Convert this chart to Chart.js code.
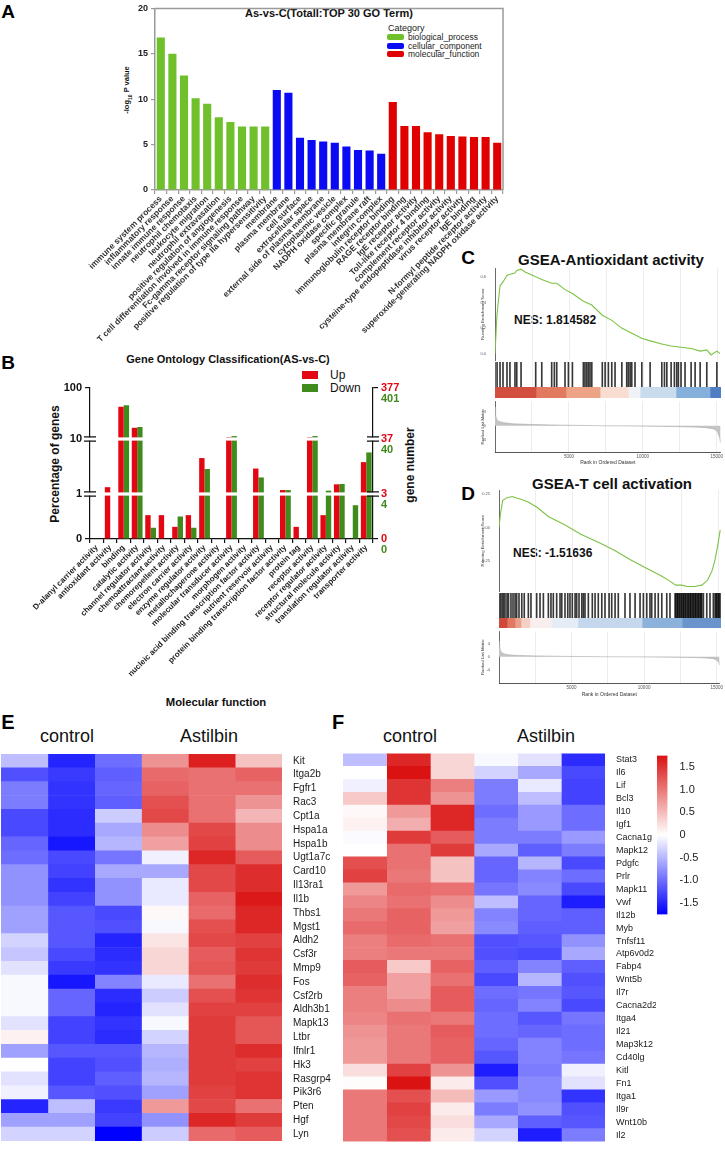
<!DOCTYPE html>
<html>
<head>
<meta charset="utf-8">
<title>GO / GSEA / heatmap figure</title>
<script src="https://cdn.jsdelivr.net/npm/chart.js@4.4.1/dist/chart.umd.min.js"></script>
<style>
  body { margin: 0; background: #fff; }
  #page { position: relative; width: 725px; height: 1150px; overflow: hidden; background: #fff;
          font-family: Arial, "Liberation Sans", Helvetica, sans-serif; color: #111; }
  #page canvas { position: absolute; }
  .t { position: absolute; transform: translate(-50%, -50%); white-space: nowrap; line-height: 1; }
  .l { position: absolute; transform: translate(0, -50%); white-space: nowrap; line-height: 1; }
  .rot { transform: translate(-50%, -50%) rotate(-90deg); }
  .panel { font-weight: bold; font-size: 19px; color: #000; }
  .sw { position: absolute; }
</style>
</head>
<body>
<div id="page">
  <!-- panel A -->
  <div class="t panel" style="left:8px;top:11px">A</div>
  <div class="t" style="left:329px;top:13px;font-weight:bold;font-size:11px">As-vs-C(Totall:TOP 30 GO Term)</div>
  <div class="l" style="left:388px;top:28px;font-size:9px;color:#222">Category</div>
  <div class="sw" style="left:387px;top:34px;width:17px;height:6px;border-radius:2px;background:#70c02c"></div>
  <div class="l" style="left:408px;top:37px;font-size:8.5px;color:#222">biological_process</div>
  <div class="sw" style="left:387px;top:43px;width:17px;height:6px;border-radius:2px;background:#0a0af5"></div>
  <div class="l" style="left:408px;top:46px;font-size:8.5px;color:#222">cellular_component</div>
  <div class="sw" style="left:387px;top:51px;width:17px;height:6px;border-radius:2px;background:#e10000"></div>
  <div class="l" style="left:408px;top:54px;font-size:8.5px;color:#222">molecular_function</div>
  <div class="t rot" style="left:128px;top:90px;font-weight:bold;font-size:7.5px">-log<sub style="font-size:5px">10</sub> P value</div>

  <!-- panel B -->
  <div class="t panel" style="left:8px;top:362px">B</div>
  <div class="t" style="left:228px;top:359px;font-weight:bold;font-size:11px">Gene Ontology Classification(AS-vs-C)</div>
  <div class="sw" style="left:302px;top:371px;width:16px;height:8px;background:#e30613"></div>
  <div class="l" style="left:330px;top:375px;font-size:12px">Up</div>
  <div class="sw" style="left:302px;top:384px;width:16px;height:8px;background:#3f8b1b"></div>
  <div class="l" style="left:330px;top:388px;font-size:12px">Down</div>
  <div class="t rot" style="left:55px;top:464px;font-weight:bold;font-size:12px">Percentage of genes</div>
  <div class="t rot" style="left:410px;top:465px;font-weight:bold;font-size:12px">gene number</div>
  <div class="t" style="left:216px;top:703px;font-weight:bold;font-size:11.3px">Molecular function</div>

  <!-- panels C and D -->
  <div class="t panel" style="left:468px;top:257px">C</div>
  <div class="t" style="left:611px;top:259px;font-weight:bold;font-size:15px">GSEA-Antioxidant activity</div>
  <div class="l" style="left:514px;top:320px;font-weight:bold;font-size:12px">NES: 1.814582</div>
  <div class="t panel" style="left:468px;top:493px">D</div>
  <div class="t" style="left:612px;top:483px;font-weight:bold;font-size:15px">GSEA-T cell activation</div>
  <div class="l" style="left:513px;top:553px;font-weight:bold;font-size:12px">NES: -1.51636</div>

  <!-- panels E and F -->
  <div class="t panel" style="left:8px;top:722px;font-size:20px">E</div>
  <div class="t" style="left:67px;top:736px;font-size:18px">control</div>
  <div class="t" style="left:209px;top:736px;font-size:18px">Astilbin</div>
  <div class="t panel" style="left:338px;top:722px;font-size:20px">F</div>
  <div class="t" style="left:410px;top:736px;font-size:18px">control</div>
  <div class="t" style="left:546px;top:736px;font-size:18px">Astilbin</div>
</div>

<script>
// ---------- panel A: top 30 GO terms ----------
const goTerms = [
  'immune system process', 'inflammatory response', 'innate immune response', 'neutrophil chemotaxis',
  'leukocyte migration', 'neutrophil extravasation', 'positive regulation of angiogenesis',
  'T cell differentiation involved in immune response', 'Fc-gamma receptor signaling pathway',
  'positive regulation of type IIa hypersensitivity',
  'membrane', 'plasma membrane', 'cell surface', 'extracellular space', 'external side of plasma membrane',
  'cytoplasmic vesicle', 'NADPH oxidase complex', 'specific granule', 'plasma membrane raft', 'integrin complex',
  'immunoglobulin receptor binding', 'RAGE receptor binding', 'IgE receptor activity', 'Toll-like receptor 4 binding',
  'complement receptor activity', 'cysteine-type endopeptidase inhibitor activity', 'virus receptor activity',
  'IgE binding', 'N-formyl peptide receptor activity', 'superoxide-generating NADPH oxidase activity'
];
const goPvalues = [16.8, 15.0, 12.6, 10.1, 9.5, 8.0, 7.5, 7.0, 7.0, 7.0,
                   11.0, 10.7, 5.75, 5.5, 5.35, 5.2, 4.8, 4.4, 4.35, 4.0,
                   9.7, 7.05, 7.05, 6.35, 6.15, 5.95, 5.9, 5.85, 5.85, 5.2];
const goCategory = ['BP', 'BP', 'BP', 'BP', 'BP', 'BP', 'BP', 'BP', 'BP', 'BP',
                    'CC', 'CC', 'CC', 'CC', 'CC', 'CC', 'CC', 'CC', 'CC', 'CC',
                    'MF', 'MF', 'MF', 'MF', 'MF', 'MF', 'MF', 'MF', 'MF', 'MF'];
const categoryColors = { BP: '#70c02c', CC: '#0a0af5', MF: '#e10000' };

// ---------- panel B: GO classification (molecular function) ----------
const mfTerms = [
  'D-alanyl carrier activity', 'antioxidant activity', 'binding', 'catalytic activity',
  'channel regulator activity', 'chemoattractant activity', 'chemorepellent activity',
  'electron carrier activity', 'enzyme regulator activity', 'metallochaperone activity',
  'molecular transducer activity', 'morphogen activity', 'nucleic acid binding transcription factor activity',
  'nutrient reservoir activity', 'protein binding transcription factor activity', 'protein tag',
  'receptor activity', 'receptor regulator activity', 'structural molecule activity',
  'translation regulator activity', 'transporter activity'
];
const upPercent   = [0, 1.33, 43, 16.6, 0.53, 0.53, 0.27, 0.53, 4.5, 0, 10.9, 0, 2.9, 0, 1.18, 0.27, 10.9, 0.53, 1.5, 0, 3.8];
const downPercent = [0, 0, 46, 17.2, 0.25, 0, 0.5, 0.25, 2.85, 0, 11.4, 0, 2.0, 0, 1.18, 0, 11.4, 1.15, 1.52, 0.75, 5.7];
const pctTicks = [0, 1, 10, 100];
const upTickCounts = [0, 3, 37, 377];
const downTickCounts = [0, 4, 40, 401];

// ---------- panels C and D: GSEA ----------
const rankGrid = [2500, 5000, 7500, 10000, 12500, 15000];
const cEsRanks  = [0, 130, 340, 540, 810, 1010, 1350, 1470, 1760, 2000, 2750, 3160, 3830, 4170, 4730, 5230, 5970, 6540, 7250, 7890, 8560, 9240, 9920, 10480, 11270, 11900, 12570, 13250, 13860, 14310, 14600, 14990, 15200];
const cEsScores = [0, 0.30, 0.53, 0.56, 0.61, 0.62, 0.63, 0.65, 0.66, 0.64, 0.60, 0.58, 0.55, 0.55, 0.50, 0.47, 0.41, 0.38, 0.30, 0.26, 0.20, 0.16, 0.12, 0.10, 0.075, 0.06, 0.05, 0.04, 0.02, 0.03, -0.01, 0.02, 0.0];
const cHits = [140, 340, 540, 810, 1010, 1350, 1470, 1760, 2750, 3160, 3830, 4010, 4170, 4730, 4960, 5230, 5970, 6080, 6200, 6310, 6420, 6540, 7250, 7440, 7660, 7890, 8110, 8570, 8900, 9010, 9130, 9240, 9460, 9920, 10480, 11270, 11450, 11610, 11900, 12120, 12280, 12390, 12570, 12840, 13250, 13520, 13860, 14310, 14990];
const cBandEdges  = [0, 2770, 4800, 7100, 9000, 9800, 12230, 14530, 15270];
const cBandColors = ['#d24f3f', '#e27a60', '#eca386', '#f8ddd0', '#f1f2f7', '#c8dcee', '#86b0dc', '#4f7fc2'];
const cMetricRanks  = [0, 40, 100, 250, 600, 1200, 2500, 4500, 7000, 9500, 12000, 13500, 14300, 14800, 15050, 15200, 15270];
const cMetricValues = [5.5, 3.2, 2.0, 1.3, 0.9, 0.6, 0.4, 0.2, 0.05, -0.05, -0.2, -0.35, -0.55, -0.9, -1.6, -3.5, -5.0];

const dEsRanks  = [0, 100, 250, 500, 900, 1200, 1500, 2000, 2600, 3400, 4500, 5600, 6800, 7900, 9000, 10200, 11100, 11700, 12100, 12500, 12900, 13400, 13900, 14300, 14600, 14800, 15000, 15150];
const dEsScores = [0, 0.10, 0.20, 0.22, 0.23, 0.22, 0.21, 0.19, 0.15, 0.08, 0.02, -0.05, -0.11, -0.17, -0.24, -0.31, -0.36, -0.40, -0.43, -0.43, -0.44, -0.44, -0.43, -0.39, -0.32, -0.24, -0.12, -0.02];
const dHits = [100, 210, 310, 410, 550, 650, 820, 960, 1100, 1210, 1370, 1560, 1730, 2010, 2190, 2580, 2810, 3040, 3380, 3560, 3720, 3950, 4180, 4300, 4520, 4710, 4860, 5020, 5210, 5320, 5480, 5670, 5780, 5890, 6120, 6390, 6580, 6800, 7040, 7260, 7540, 7720, 7950, 8170, 8630, 8970, 9320, 9660, 9890, 10120, 10340, 10460, 10690, 10910, 11150, 11490, 11710,
               12060, 12120, 12200, 12250, 12330, 12390, 12470, 12530, 12610, 12660, 12740, 12800, 12880, 12950, 13010, 13090, 13140, 13220, 13290, 13350, 13430, 13480, 13560, 13630, 13690, 13770, 13830, 13890,
               14000, 14230, 14450, 14680, 14800, 14870, 14930, 15010, 15070, 15140];
const dBandEdges  = [0, 550, 1100, 1500, 2120, 3630, 5410, 9800, 12540, 15205];
const dBandColors = ['#d04838', '#e07a62', '#eaa08c', '#f5d0c4', '#f8eeee', '#e4ecf6', '#c4d7ec', '#8cb2dc', '#6a94cc'];
const dMetricRanks  = [0, 40, 100, 250, 600, 1200, 2500, 4500, 7000, 9500, 12000, 13500, 14300, 14800, 15000, 15150, 15205];
const dMetricValues = [4.8, 3.0, 1.8, 1.0, 0.6, 0.4, 0.25, 0.1, 0.0, -0.05, -0.15, -0.25, -0.4, -0.6, -1.0, -1.8, -2.6];

// ---------- panels E and F: heatmaps (z-scores) ----------
const eGenes = ['Kit', 'Itga2b', 'Fgfr1', 'Rac3', 'Cpt1a', 'Hspa1a', 'Hspa1b', 'Ugt1a7c', 'Card10', 'Il13ra1',
                'Il1b', 'Thbs1', 'Mgst1', 'Aldh2', 'Csf3r', 'Mmp9', 'Fos', 'Csf2rb', 'Aldh3b1', 'Mapk13',
                'Ltbr', 'Ifnlr1', 'Hk3', 'Rasgrp4', 'Pik3r6', 'Pten', 'Hgf', 'Lyn'];
const eValues = [
  [-0.45, -1.5, -1.0, 0.8, 1.65, 0.45],
  [-1.2, -1.35, -1.1, 1.1, 1.05, 1.15],
  [-0.9, -1.4, -1.05, 1.15, 1.05, 1.05],
  [-0.9, -1.4, -1.1, 1.3, 1.05, 0.8],
  [-1.25, -1.45, -0.35, 1.35, 1.05, 0.55],
  [-1.25, -1.45, -0.6, 0.85, 1.35, 0.85],
  [-1.05, -1.6, -0.5, 0.7, 1.4, 0.85],
  [-1.0, -1.25, -0.95, -0.1, 1.6, 1.2],
  [-0.75, -1.3, -0.6, -0.6, 1.35, 1.55],
  [-0.75, -1.4, -0.75, -0.15, 1.35, 1.55],
  [-0.75, -1.3, -0.75, -0.15, 1.15, 1.7],
  [-0.65, -1.15, -1.25, 0.05, 1.1, 1.6],
  [-0.65, -1.15, -1.2, -0.05, 1.3, 1.6],
  [-0.3, -1.15, -1.5, 0.2, 1.35, 1.4],
  [-0.4, -1.25, -1.45, 0.3, 1.2, 1.5],
  [-0.2, -1.35, -1.4, 0.3, 1.25, 1.45],
  [-0.05, -1.6, -0.85, -0.15, 1.05, 1.55],
  [-0.05, -1.05, -1.45, -0.35, 1.3, 1.5],
  [-0.05, -1.05, -1.5, -0.2, 1.4, 1.4],
  [-0.2, -1.3, -1.4, -0.05, 1.45, 1.25],
  [0.1, -1.3, -1.45, -0.3, 1.45, 1.25],
  [-0.65, -1.15, -1.15, -0.5, 1.45, 1.55],
  [0.0, -1.3, -1.2, -0.55, 1.45, 1.4],
  [-0.2, -1.3, -1.1, -0.5, 1.45, 1.5],
  [-0.1, -1.15, -1.2, -0.65, 1.4, 1.5],
  [-1.5, -0.45, -1.35, 0.75, 1.35, 1.05],
  [-0.65, -0.65, -1.3, -0.75, 1.6, 1.45],
  [-0.3, -0.3, -1.75, -0.35, 1.1, 1.2]
];
const fGenes = ['Stat3', 'Il6', 'Lif', 'Bcl3', 'Il10', 'Igf1', 'Cacna1g', 'Mapk12', 'Pdgfc', 'Prlr',
                'Mapk11', 'Vwf', 'Il12b', 'Myb', 'Tnfsf11', 'Atp6v0d2', 'Fabp4', 'Wnt5b', 'Il7r', 'Cacna2d2',
                'Itga4', 'Il21', 'Map3k12', 'Cd40lg', 'Kitl', 'Fn1', 'Itga1', 'Il9r', 'Wnt10b', 'Il2'];
const fValues = [
  [-0.45, 1.6, 0.3, -0.05, -0.2, -1.45],
  [0.0, 1.75, 0.3, -0.3, -0.6, -1.25],
  [-0.1, 1.5, 0.95, -0.9, -0.15, -1.3],
  [0.4, 1.5, 0.8, -0.9, -0.45, -1.3],
  [0.05, 0.75, 1.6, -1.0, -0.7, -1.0],
  [0.1, 0.6, 1.6, -0.9, -0.7, -1.0],
  [-0.03, 1.45, 1.2, -0.9, -0.9, -0.7],
  [0.0, 1.05, 1.45, -0.6, -1.1, -0.9],
  [1.3, 1.05, 0.45, -1.05, -0.5, -1.25],
  [1.4, 1.0, 0.45, -1.05, -0.85, -1.0],
  [0.75, 1.1, 1.05, -0.95, -0.8, -1.25],
  [0.9, 1.05, 0.85, -0.45, -1.05, -1.55],
  [1.0, 1.15, 0.75, -0.85, -1.05, -1.1],
  [1.1, 1.15, 0.7, -0.8, -1.1, -1.1],
  [0.95, 1.1, 1.05, -1.2, -1.15, -0.75],
  [0.95, 1.0, 1.0, -1.2, -1.25, -0.6],
  [1.2, 0.4, 1.15, -1.1, -0.85, -1.1],
  [1.15, 0.7, 1.05, -1.25, -0.5, -1.2],
  [0.95, 0.7, 1.2, -1.0, -0.95, -1.15],
  [0.95, 0.85, 1.2, -1.05, -0.85, -1.25],
  [0.9, 1.05, 1.0, -1.0, -1.15, -0.95],
  [0.8, 1.0, 1.2, -1.0, -1.05, -1.0],
  [0.75, 1.0, 1.15, -1.05, -0.85, -1.0],
  [0.75, 1.0, 1.15, -1.15, -0.85, -0.95],
  [0.25, 1.4, 0.8, -1.55, -0.9, -0.1],
  [0.02, 1.75, 0.15, -1.2, -0.8, -0.2],
  [1.0, 1.3, 0.5, -0.7, -0.8, -1.4],
  [1.0, 1.4, 0.15, -0.9, -0.75, -1.2],
  [1.0, 1.35, 0.25, -0.6, -1.1, -1.15],
  [1.0, 1.3, 0.15, -0.3, -1.55, -0.9]
];
const legendTicks = [1.5, 1, 0.5, 0, -0.5, -1, -1.5];
const heatLimit = 1.75;

// ---------- shared settings ----------
Chart.defaults.font.family = 'Arial, "Liberation Sans", Helvetica, sans-serif';
Chart.defaults.color = '#222';
Chart.defaults.animation = false;
Chart.defaults.responsive = false;
Chart.defaults.events = [];
Chart.defaults.plugins.legend.display = false;
Chart.defaults.plugins.tooltip.enabled = false;

const axisGray = '#9a9a9a';
const upRed = '#e30613';
const downGreen = '#3f8b1b';

function addCanvas(left, top, w, h) {
  const c = document.createElement('canvas');
  c.width = w;
  c.height = h;
  c.style.left = left + 'px';
  c.style.top = top + 'px';
  document.getElementById('page').appendChild(c);
  return c;
}

// top and right edge of the plot frame (panel A)
const frameEdges = {
  id: 'frameEdges',
  afterDraw(chart) {
    const { ctx, chartArea: a } = chart;
    ctx.save();
    ctx.strokeStyle = axisGray;
    ctx.lineWidth = 1.5;
    ctx.beginPath();
    ctx.moveTo(a.left, a.top);
    ctx.lineTo(a.right, a.top);
    ctx.lineTo(a.right, a.bottom);
    ctx.stroke();
    ctx.restore();
  }
};

// ---------- chart A ----------
new Chart(addCanvas(0, 0, 520, 350), {
  type: 'bar',
  data: {
    labels: goTerms,
    datasets: [{
      data: goPvalues,
      backgroundColor: goCategory.map(c => categoryColors[c]),
      barPercentage: 0.7,
      categoryPercentage: 1
    }]
  },
  options: {
    layout: { padding: { top: 5, right: 17 } },
    scales: {
      x: {
        grid: { drawOnChartArea: false, tickLength: 4, color: axisGray, lineWidth: 1.2 },
        border: { color: axisGray, width: 1.5 },
        ticks: { autoSkip: false, minRotation: 45, maxRotation: 45, padding: 0,
                 font: { size: 8.5, weight: 'bold' }, color: '#333' },
        afterFit: s => { s.height = 160; }
      },
      y: {
        min: 0, max: 20,
        grid: { drawOnChartArea: false, tickLength: 4, color: axisGray, lineWidth: 1.2 },
        border: { color: axisGray, width: 1.5 },
        ticks: { stepSize: 5, padding: 3, font: { size: 9, weight: 'bold' }, color: '#222' },
        afterFit: s => { s.width = 155; }
      }
    }
  },
  plugins: [frameEdges]
});

// ---------- chart B ----------
// broken axis: 0-1 linear, 1-10 log, 10-100 log, each segment with its own height
function toBrokenAxis(p) {
  if (p <= 1) return p * 45;
  if (p <= 10) return 45 + 55 * Math.log10(p);
  return 100 + 51 * Math.log10(p / 10);
}
const brokenMax = toBrokenAxis(100);
const brokenTicks = s => { s.ticks = pctTicks.map(p => ({ value: toBrokenAxis(p) })); };

const axisBreaks = {
  id: 'axisBreaks',
  afterDraw(chart) {
    const { ctx, chartArea: a } = chart;
    const y = chart.scales.y;
    ctx.save();
    [1, 10].forEach(p => {
      const py = y.getPixelForValue(toBrokenAxis(p));
      ctx.fillStyle = '#fff';
      ctx.fillRect(a.left - 6, py - 1.6, a.right - a.left + 12, 3.2);
      ctx.strokeStyle = '#111';
      ctx.lineWidth = 1.2;
      [a.left, a.right].forEach(x => {
        ctx.beginPath();
        ctx.moveTo(x - 6, py - 2.2); ctx.lineTo(x + 6, py - 2.2);
        ctx.moveTo(x - 6, py + 2.2); ctx.lineTo(x + 6, py + 2.2);
        ctx.stroke();
      });
    });
    // gene counts of the "Down" set, just under the "Up" counts of the right axis
    const r = chart.scales.yUp;
    ctx.font = 'bold 11px Arial, "Liberation Sans", sans-serif';
    ctx.fillStyle = downGreen;
    ctx.textAlign = 'left';
    ctx.textBaseline = 'middle';
    pctTicks.forEach((p, i) => {
      ctx.fillText(String(downTickCounts[i]), r.left + 8, r.getPixelForValue(toBrokenAxis(p)) + 11);
    });
    ctx.restore();
  }
};

new Chart(addCanvas(0, 340, 440, 380), {
  type: 'bar',
  data: {
    labels: mfTerms,
    datasets: [
      { label: 'Up', data: upPercent.map(toBrokenAxis), backgroundColor: upRed,
        barPercentage: 1, categoryPercentage: 0.8 },
      { label: 'Down', data: downPercent.map(toBrokenAxis), backgroundColor: downGreen,
        barPercentage: 1, categoryPercentage: 0.8 }
    ]
  },
  options: {
    layout: { padding: { top: 48 } },
    scales: {
      x: {
        grid: { drawOnChartArea: false, tickLength: 4, color: '#111', lineWidth: 1.2 },
        border: { color: '#111', width: 1.2 },
        ticks: { autoSkip: false, minRotation: 45, maxRotation: 45, padding: 0,
                 font: { size: 8, weight: 'bold' }, color: '#222' },
        afterFit: s => { s.height = 181; }
      },
      y: {
        min: 0, max: brokenMax,
        afterBuildTicks: brokenTicks,
        grid: { drawOnChartArea: false, tickLength: 5, color: '#111', lineWidth: 1.2 },
        border: { color: '#111', width: 1.2 },
        ticks: { padding: 3, font: { size: 11, weight: 'bold' }, color: '#111',
                 callback: (v, i) => pctTicks[i] },
        afterFit: s => { s.width = 90; }
      },
      yUp: {
        position: 'right', min: 0, max: brokenMax,
        afterBuildTicks: brokenTicks,
        grid: { drawOnChartArea: false, tickLength: 5, color: '#111', lineWidth: 1.2 },
        border: { color: '#111', width: 1.2 },
        ticks: { padding: 3, font: { size: 11, weight: 'bold' }, color: upRed,
                 callback: (v, i) => upTickCounts[i] },
        afterFit: s => { s.width = 67; }
      }
    }
  },
  plugins: [axisBreaks]
});

// ---------- charts C and D ----------
function rankAxis(max, extra) {
  return Object.assign({
    type: 'linear', min: 0, max: max, offset: false,
    afterBuildTicks: s => { s.ticks = rankGrid.map(v => ({ value: v })); },
    grid: { color: '#e8e8e8', lineWidth: 0.8, drawTicks: false, offset: false },
    border: { display: false },
    ticks: { display: false },
    afterFit: s => { s.height = 0; }
  }, extra || {});
}

function plainLeftAxis(width, extra) {
  return Object.assign({
    grid: { display: false },
    border: { display: true, color: '#444', width: 0.8 },
    ticks: { display: false },
    afterFit: s => { s.width = width; }
  }, extra || {});
}

function drawGsea(g) {
  const pad = { left: 10, right: 4 };

  // running enrichment score
  new Chart(addCanvas(470, g.esTop, 255, g.esHeight), {
    type: 'line',
    data: { datasets: [{
      data: g.esRanks.map((r, i) => ({ x: r, y: g.esScores[i] })),
      borderColor: '#7cc243', borderWidth: 1.1, pointRadius: 0, tension: 0
    }] },
    options: {
      layout: { padding: Object.assign({ top: 4, bottom: 2 }, pad) },
      scales: {
        x: rankAxis(g.rankMax),
        y: plainLeftAxis(g.axisWidth, {
          min: g.esMin, max: g.esMax,
          afterBuildTicks: s => { s.ticks = g.esTicks.map(v => ({ value: v })); },
          ticks: { display: true, padding: 1, font: { size: 4 }, color: '#555',
                   callback: v => v.toFixed(g.esDigits) },
          title: { display: true, text: 'Running Enrichment Score', font: { size: 4.3 }, color: '#333', padding: 0 }
        })
      }
    }
  });

  // hit positions: one thin bar per gene of the set, placed on the rank axis
  new Chart(addCanvas(470, g.hitsTop, 255, g.hitsHeight), {
    type: 'bar',
    data: { datasets: [{
      data: g.hits.map(h => ({ x: h, y: 1 })),
      backgroundColor: 'rgba(0,0,0,0.78)',
      barThickness: 1
    }] },
    options: {
      layout: { padding: pad },
      scales: { x: rankAxis(g.rankMax), y: plainLeftAxis(g.axisWidth, { min: 0, max: 1 }) }
    }
  });

  // ranked list colour band
  new Chart(addCanvas(470, g.bandTop, 255, g.bandHeight), {
    type: 'bar',
    data: {
      labels: [''],
      datasets: g.bandColors.map((col, i) => ({
        data: [g.bandEdges[i + 1] - g.bandEdges[i]],
        backgroundColor: col, barPercentage: 1, categoryPercentage: 1
      }))
    },
    options: {
      indexAxis: 'y',
      layout: { padding: pad },
      scales: {
        x: rankAxis(g.rankMax, { stacked: true }),
        y: plainLeftAxis(g.axisWidth, { stacked: true })
      }
    }
  });

  // ranked list metric
  new Chart(addCanvas(470, g.metricTop, 255, g.metricHeight), {
    type: 'line',
    data: { datasets: [{
      data: g.metricRanks.map((r, i) => ({ x: r, y: g.metricValues[i] })),
      borderColor: '#a9a9a9', borderWidth: 0.6, backgroundColor: '#c4c4c4',
      fill: 'origin', pointRadius: 0, tension: 0
    }] },
    options: {
      layout: { padding: pad },
      scales: {
        x: rankAxis(g.rankMax, {
          border: { display: true, color: '#444', width: 0.9 },
          ticks: { display: true, padding: 2, font: { size: 4.5 }, color: '#555',
                   callback: v => (v % 5000 === 0 ? v : '') },
          title: { display: true, text: 'Rank in Ordered Dataset', font: { size: 5 }, color: '#333', padding: 0 },
          afterFit: s => { s.height = g.metricAxisHeight; }
        }),
        y: plainLeftAxis(g.axisWidth, {
          min: g.metricMin, max: g.metricMax,
          afterBuildTicks: s => { s.ticks = [-4, 0, 4].map(v => ({ value: v })); },
          ticks: { display: true, padding: 1, font: { size: 4 }, color: '#555' },
          title: { display: true, text: 'Ranked List Metric', font: { size: 4.3 }, color: '#333', padding: 0 }
        })
      }
    }
  });
}

drawGsea({
  rankMax: 15270, axisWidth: 15,
  esTop: 264, esHeight: 100, esMin: -0.054, esMax: 0.669, esTicks: [0, 0.2, 0.4, 0.6], esDigits: 1,
  esRanks: cEsRanks, esScores: cEsScores,
  hitsTop: 362, hitsHeight: 25, hits: cHits,
  bandTop: 387, bandHeight: 11, bandEdges: cBandEdges, bandColors: cBandColors,
  metricTop: 398, metricHeight: 68, metricAxisHeight: 14, metricMin: -7.7, metricMax: 7.2,
  metricRanks: cMetricRanks, metricValues: cMetricValues
});

drawGsea({
  rankMax: 15205, axisWidth: 19,
  esTop: 486, esHeight: 109, esMin: -0.478, esMax: 0.279, esTicks: [-0.25, 0, 0.25], esDigits: 2,
  esRanks: dEsRanks, esScores: dEsScores,
  hitsTop: 593, hitsHeight: 25, hits: dHits,
  bandTop: 618, bandHeight: 10, bandEdges: dBandEdges, bandColors: dBandColors,
  metricTop: 628, metricHeight: 70, metricAxisHeight: 15, metricMin: -8.0, metricMax: 7.7,
  metricRanks: dMetricRanks, metricValues: dMetricValues
});

// ---------- charts E and F ----------
function heatColor(v) {
  const t = Math.max(-1, Math.min(1, v / heatLimit));
  const end = t >= 0 ? [218, 18, 18] : [0, 0, 255];
  const a = Math.abs(t);
  const c = end.map(e => Math.round(255 + (e - 255) * a));
  return 'rgb(' + c.join(',') + ')';
}

function drawHeatmap(canvas, genes, values, fontSize, padding, labelWidth) {
  const cols = values[0].length;
  const datasets = [];
  for (let c = 0; c < cols; c++) {
    datasets.push({
      data: values.map(() => 1),
      backgroundColor: values.map(row => heatColor(row[c])),
      barPercentage: 1, categoryPercentage: 1, borderWidth: 0
    });
  }
  new Chart(canvas, {
    type: 'bar',
    data: { labels: genes, datasets: datasets },
    options: {
      indexAxis: 'y',
      layout: { padding: padding },
      scales: {
        x: { stacked: true, min: 0, max: cols, display: false },
        y: {
          stacked: true, position: 'right',
          grid: { display: false }, border: { display: false },
          ticks: { autoSkip: false, padding: 3, font: { size: fontSize }, color: '#1a1a1a' },
          afterFit: s => { s.width = labelWidth; }
        }
      }
    }
  });
}

drawHeatmap(addCanvas(0, 745, 345, 405), eGenes, eValues, 10, { left: 1, top: 7, bottom: 6 }, 63);
drawHeatmap(addCanvas(338, 745, 318, 405), fGenes, fValues, 9, { left: 5, top: 8, bottom: 5 }, 51);

// colour key for F
new Chart(addCanvas(656, 745, 69, 180), {
  type: 'bar',
  data: {
    labels: [''],
    datasets: [{
      data: [[-heatLimit, heatLimit]],
      barPercentage: 1, categoryPercentage: 1,
      backgroundColor: ctx => {
        const a = ctx.chart.chartArea;
        if (!a) return '#fff';
        const g = ctx.chart.ctx.createLinearGradient(0, a.bottom, 0, a.top);
        g.addColorStop(0, heatColor(-heatLimit));
        g.addColorStop(0.5, heatColor(0));
        g.addColorStop(1, heatColor(heatLimit));
        return g;
      }
    }]
  },
  options: {
    layout: { padding: { left: 1, top: 8, bottom: 10 } },
    scales: {
      x: { display: false },
      y: {
        position: 'right', min: -heatLimit, max: heatLimit,
        afterBuildTicks: s => { s.ticks = legendTicks.map(v => ({ value: v })); },
        grid: { display: false }, border: { display: false },
        ticks: { padding: 4, font: { size: 11 }, color: '#222' },
        afterFit: s => { s.width = 57.5; }
      }
    }
  }
});
</script>
</body>
</html>
